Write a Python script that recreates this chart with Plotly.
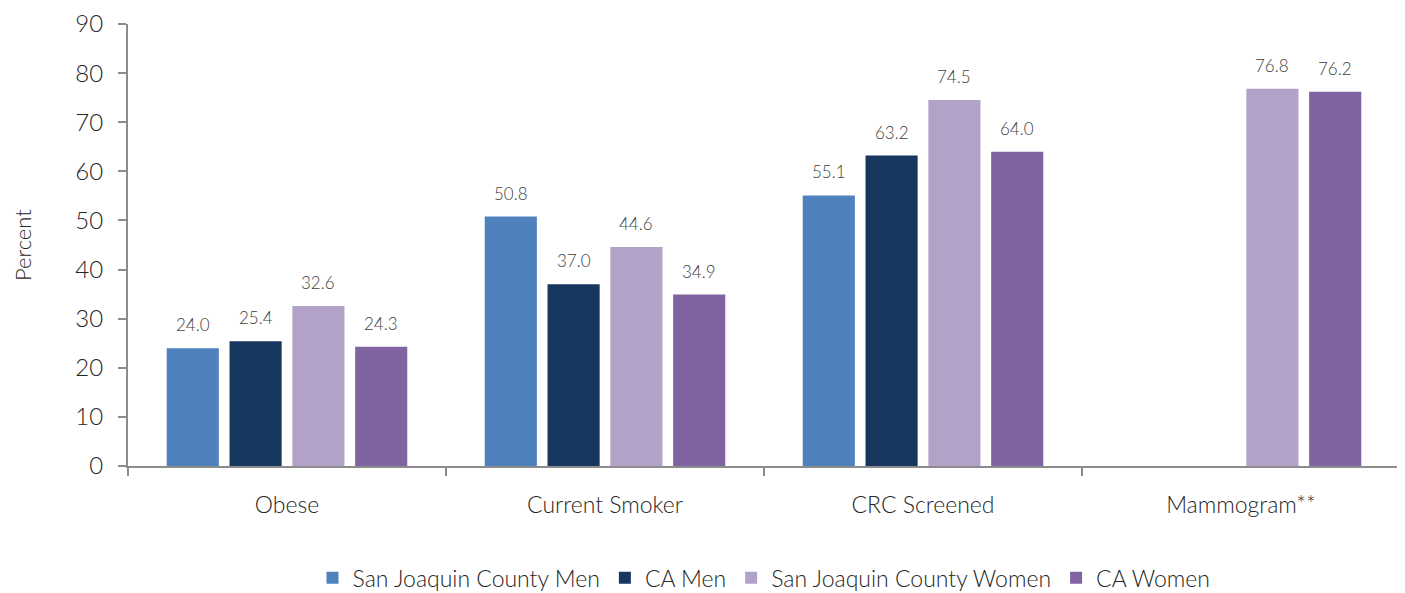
import plotly.graph_objects as go

categories = ["Obese", "Current Smoker", "CRC Screened", "Mammogram**"]
sjc_men = [24.0, 50.8, 55.1, None]
ca_men = [25.4, 37.0, 63.2, None]
sjc_women = [32.6, 44.6, 74.5, 76.8]
ca_women = [24.3, 34.9, 64.0, 76.2]

series = [
    ("San Joaquin County Men", sjc_men, "#4F81BD"),
    ("CA Men", ca_men, "#17375E"),
    ("San Joaquin County Women", sjc_women, "#B3A2C7"),
    ("CA Women", ca_women, "#8064A2"),
]

FONT = "Lato"
TXT = "#262626"
BARGAP = 0.21
PITCH = (1 - BARGAP) / len(series)

fig = go.Figure()
annotations = []
for si, (name, vals, color) in enumerate(series):
    fig.add_trace(go.Bar(
        name=name, x=categories, y=vals,
        marker=dict(color=color, line=dict(width=0)),
        cliponaxis=False,
    ))
    for ci, v in enumerate(vals):
        if v is None:
            continue
        annotations.append(dict(
            x=ci + (si - (len(series) - 1) / 2) * PITCH, y=v, xref="x", yref="y",
            text=f"{v:.1f}", showarrow=False, xanchor="center", yanchor="bottom",
            yshift=11, font=dict(size=17, color="#404040", family=FONT, weight=300),
        ))

annotations.append(dict(text="Percent", xref="paper", yref="paper",
                        x=-(128 - 22) / 1272, y=0.5, xanchor="center", yanchor="middle",
                        textangle=-90, showarrow=False,
                        font=dict(size=22, family=FONT, color=TXT, weight=300)))

fig.update_layout(
    width=1405, height=593,
    barmode="group", bargap=BARGAP, bargroupgap=0.17,
    plot_bgcolor="white", paper_bgcolor="white",
    margin=dict(l=120, r=13, t=16, b=135, autoexpand=False),
    font=dict(family=FONT, color=TXT, weight=300),
    legend=dict(orientation="h", x=0.5, xanchor="center", y=-0.253, yanchor="middle",
                font=dict(size=23, family=FONT, color=TXT, weight=300),
                traceorder="normal", itemwidth=30),
    showlegend=True,
    annotations=annotations,
)
fig.update_xaxes(
    type="category",
    automargin=False,
    showline=True, linecolor="#8C8C8C", linewidth=2,
    ticks="outside", tickson="boundaries", ticklen=8, tickcolor="#8C8C8C", tickwidth=2,
    tickfont=dict(size=23, family=FONT, color=TXT, weight=300),
    ticklabelstandoff=17,
    range=[-0.5, 3.5], showgrid=False,
)
fig.update_yaxes(
    automargin=False,
    range=[0, 90], dtick=10, showgrid=False, zeroline=False,
    showline=True, linecolor="#8C8C8C", linewidth=2,
    ticks="outside", ticklen=8, tickcolor="#8C8C8C", tickwidth=2,
    tickfont=dict(size=24, family=FONT, color=TXT, weight=300),
    ticklabelstandoff=10,
)
fig.write_html("out.html")
